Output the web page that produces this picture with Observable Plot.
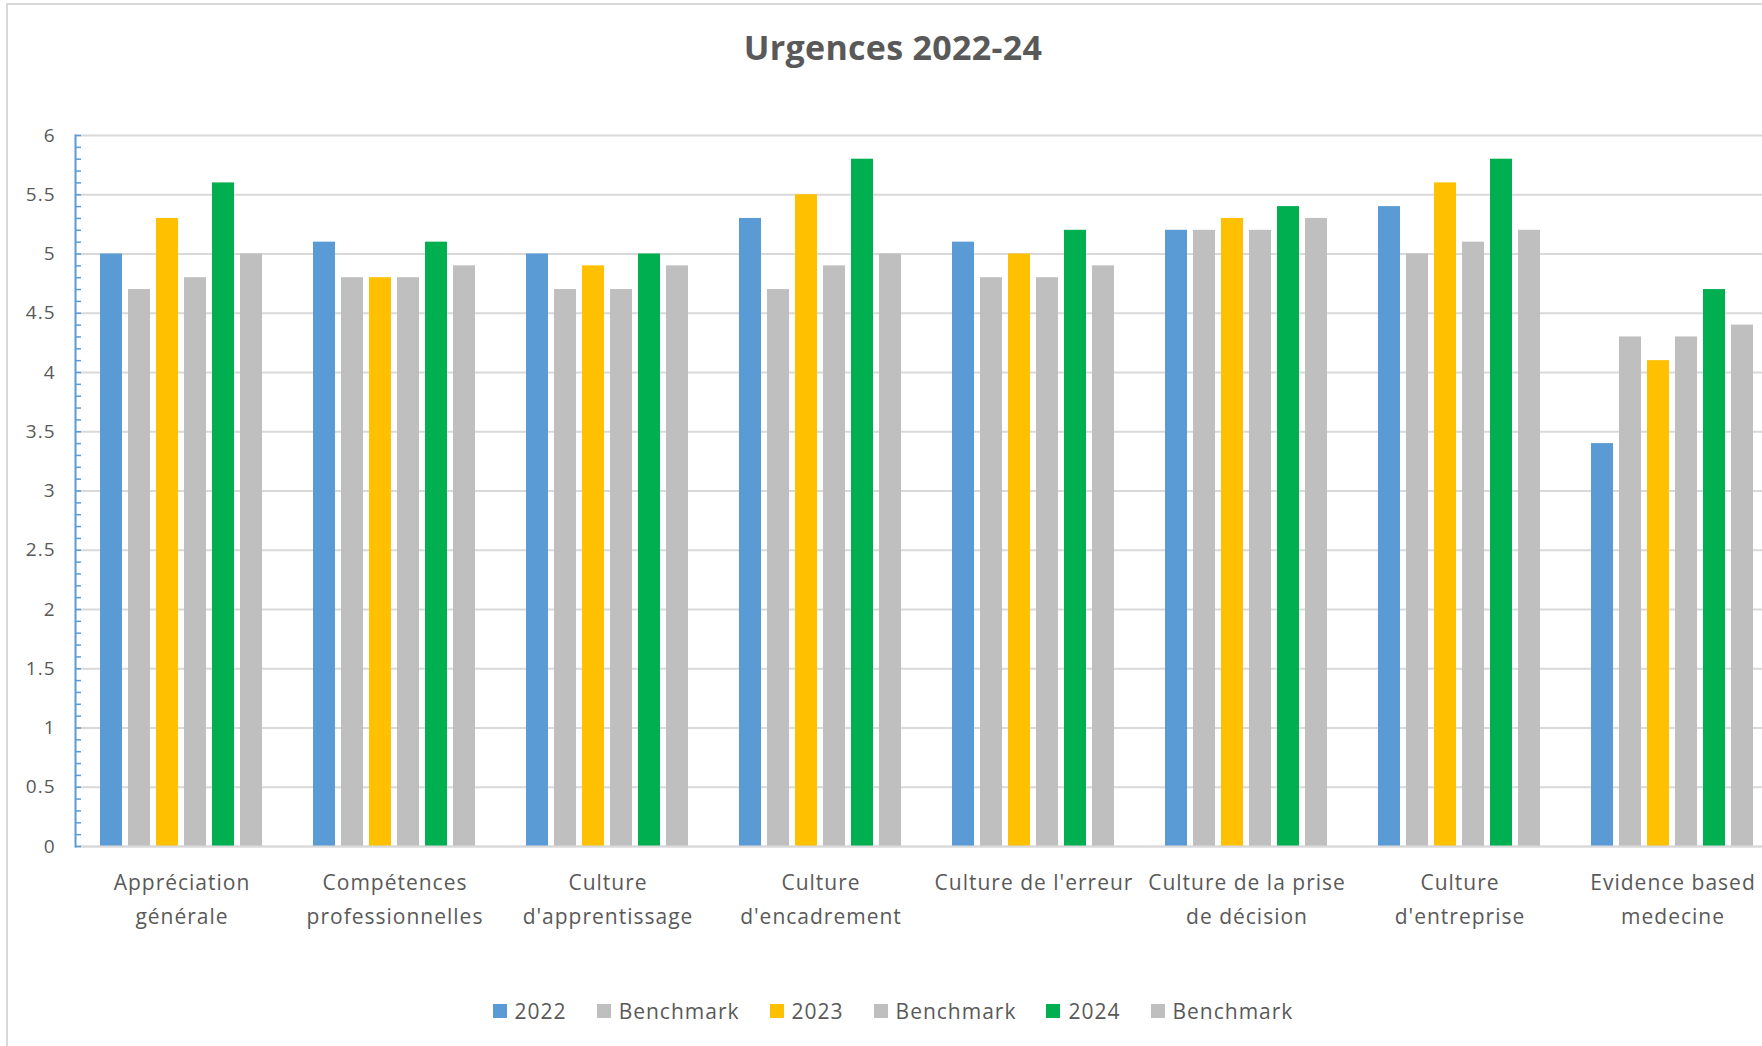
<!DOCTYPE html>
<html>
<head>
<meta charset="utf-8">
<script src="https://cdn.jsdelivr.net/npm/d3@7"></script>
<script src="https://cdn.jsdelivr.net/npm/@observablehq/plot@0.6"></script>
<style>
html, body { margin: 0; padding: 0; background: #fff; overflow: hidden; width: 1762px; height: 1046px; }
#box { position: absolute; left: 6px; top: 3px; width: 1800px; height: 1100px; border: 2px solid #D9D9D9; box-sizing: border-box; }
#title { position: absolute; left: 7px; width: 1772px; top: 24px; text-align: center; font-family: "Open Sans", sans-serif; font-weight: 700; font-size: 34px; letter-spacing: 0.3px; color: #595959; line-height: 46px; }
#chart { position: absolute; left: -1px; top: 100px; }
#chart svg { max-width: none !important; }
#chart svg text { letter-spacing: 1px; }
#legend { position: absolute; left: 7px; width: 1772px; top: 997px; display: flex; justify-content: center; align-items: center; font-family: "Open Sans", sans-serif; font-size: 21px; letter-spacing: 1px; color: #595959; }
.item { display: flex; align-items: center; margin: 0 15px; }
.sw { width: 14px; height: 14px; margin-right: 8px; }
</style>
</head>
<body>
<div id="box"></div>
<div id="title">Urgences 2022-24</div>
<div id="chart"></div>
<div id="legend"></div>
<script>
const categories = [
  "Appréciation générale",
  "Compétences professionnelles",
  "Culture d'apprentissage",
  "Culture d'encadrement",
  "Culture de l'erreur",
  "Culture de la prise de décision",
  "Culture d'entreprise",
  "Evidence based medecine"
];
const tickLabels = [
  "Appréciation\ngénérale",
  "Compétences\nprofessionnelles",
  "Culture\nd'apprentissage",
  "Culture\nd'encadrement",
  "Culture de l'erreur",
  "Culture de la prise\nde décision",
  "Culture\nd'entreprise",
  "Evidence based\nmedecine"
];
const seriesKeys = ["2022", "Benchmark 2022", "2023", "Benchmark 2023", "2024", "Benchmark 2024"];
const legendLabels = ["2022", "Benchmark", "2023", "Benchmark", "2024", "Benchmark"];
const seriesColors = ["#5B9BD5", "#BFBFBF", "#FFC000", "#BFBFBF", "#00B050", "#BFBFBF"];

const values2022 = [5.0, 5.1, 5.0, 5.3, 5.1, 5.2, 5.4, 3.4];
const bench2022  = [4.7, 4.8, 4.7, 4.7, 4.8, 5.2, 5.0, 4.3];
const values2023 = [5.3, 4.8, 4.9, 5.5, 5.0, 5.3, 5.6, 4.1];
const bench2023  = [4.8, 4.8, 4.7, 4.9, 4.8, 5.2, 5.1, 4.3];
const values2024 = [5.6, 5.1, 5.0, 5.8, 5.2, 5.4, 5.8, 4.7];
const bench2024  = [5.0, 4.9, 4.9, 5.0, 4.9, 5.3, 5.2, 4.4];

const yTicks = [0, 0.5, 1, 1.5, 2, 2.5, 3, 3.5, 4, 4.5, 5, 5.5, 6];
const minorTicks = d3.range(0, 61).map(d => d / 10);

const seriesValues = [values2022, bench2022, values2023, bench2023, values2024, bench2024];
const table = [];
categories.forEach((c, i) => {
  seriesKeys.forEach((s, j) => {
    table.push({category: c, series: s, value: seriesValues[j][i]});
  });
});

const chart = Plot.plot({
  width: 1790,
  height: 846,
  marginLeft: 74,
  marginRight: 9,
  marginTop: 35,
  marginBottom: 100,
  style: {fontFamily: "'Open Sans', sans-serif", color: "#595959", background: "transparent", overflow: "visible", maxWidth: "none"},
  fx: {domain: categories, padding: 0, label: null},
  x: {domain: seriesKeys, paddingInner: 0.21, paddingOuter: 0.85, axis: null},
  y: {domain: [0, 6], label: null},
  color: {domain: seriesKeys, range: seriesColors},
  marks: [
    Plot.gridY({ticks: yTicks, stroke: "#D9D9D9", strokeOpacity: 1, strokeWidth: 2}),
    Plot.barY(table, {fx: "category", x: "series", y: "value", fill: "series"}),
    Plot.ruleY([0], {stroke: "#D9D9D9", strokeWidth: 2}),
    Plot.frame({anchor: "left", facet: "super", stroke: "#5B9BD5", strokeWidth: 2}),
    Plot.axisY({ticks: minorTicks, tickSize: -6, text: null, stroke: "#5B9BD5", strokeWidth: 1.5}),
    Plot.axisY({ticks: yTicks, tickSize: 0, tickPadding: 20, fontSize: 19, fill: "#595959", tickFormat: d => String(d)}),
    Plot.axisFx({anchor: "bottom", tickSize: 0, tickPadding: 20, fontSize: 21, lineHeight: 1.6, fill: "#595959", label: null,
      tickFormat: d => tickLabels[categories.indexOf(d)]})
  ]
});
document.getElementById("chart").appendChild(chart);

const legend = document.getElementById("legend");
legendLabels.forEach((l, i) => {
  const it = document.createElement("div");
  it.className = "item";
  const sw = document.createElement("div");
  sw.className = "sw";
  sw.style.background = seriesColors[i];
  const tx = document.createElement("span");
  tx.textContent = l;
  it.appendChild(sw);
  it.appendChild(tx);
  legend.appendChild(it);
});
</script>
</body>
</html>
